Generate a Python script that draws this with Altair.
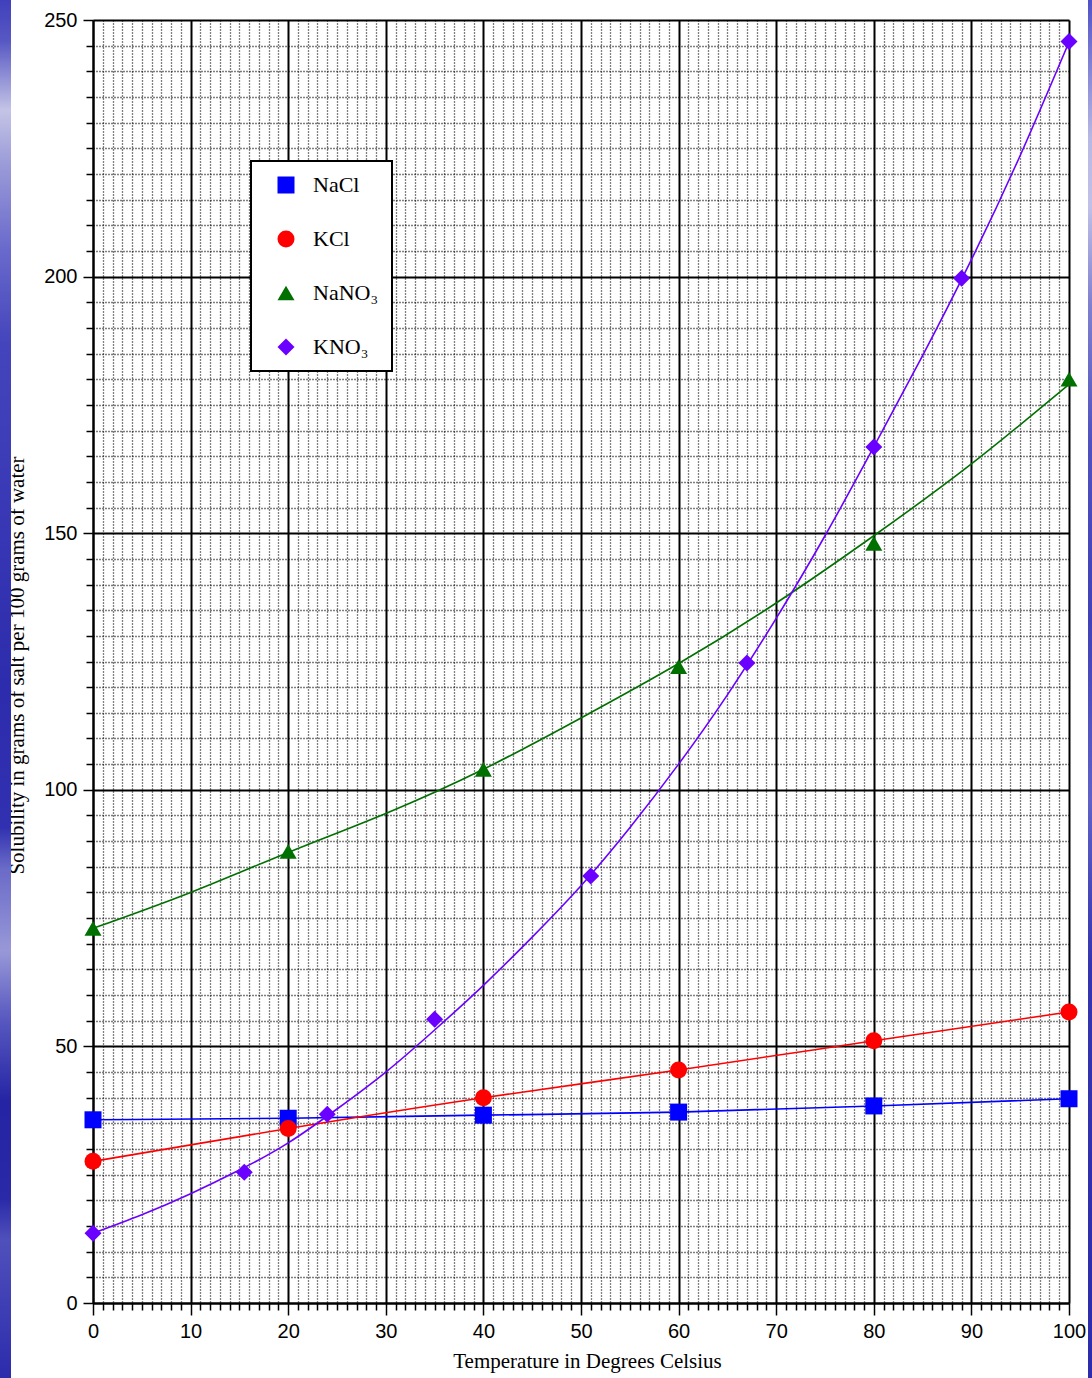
import altair as alt
import pandas as pd

# Salts, their colours and marker shapes (legend order)
salts = ["NaCl", "KCl", "NaNO₃", "KNO₃"]
salt_colors = ["#0000ff", "#ff0000", "#007000", "#6a00ff"]
salt_shapes = ["square", "circle", "triangle-up", "diamond"]

# Measured solubility (g salt / 100 g water) against temperature (°C)
temps_common = [0, 20, 40, 60, 80, 100]
nacl = [35.7, 36.0, 36.6, 37.2, 38.4, 39.8]
kcl = [27.6, 34.0, 40.0, 45.4, 51.1, 56.7]
nano3 = [73.0, 88.0, 104.0, 124.0, 148.0, 180.0]
kno3_temps = [0, 15.5, 24, 35, 51, 67, 80, 89, 100]
kno3 = [13.6, 25.5, 36.8, 55.3, 83.2, 124.7, 166.8, 199.7, 245.8]

# Smoothed solubility curves for the nitrates
nano3_curve_temps = [0, 10, 20, 30, 40, 50, 60, 70, 80, 90, 100]
nano3_curve = [73.0, 80.0, 87.8, 95.4, 104.0, 114.0, 124.6, 136.4, 149.5, 163.5, 179.0]
kno3_curve_temps = [0, 5, 10, 15, 20, 25, 30, 35, 40, 45, 50, 55, 60, 65, 70, 75, 80, 85, 90, 95, 100]
kno3_curve = [13.6, 17.2, 21.3, 25.9, 31.2, 37.8, 45.0, 53.2, 61.9, 71.3, 81.3,
              92.6, 105.0, 118.5, 133.4, 149.5, 166.8, 184.6, 203.3, 223.6, 245.7]

# Axis tick positions
x_ticks = list(range(0, 101))
y_ticks = list(range(0, 251, 5))


def frame(pairs):
    rows = []
    for salt, temps, vals in pairs:
        for t, v in zip(temps, vals):
            rows.append({"salt": salt, "temp": t, "sol": v})
    return pd.DataFrame(rows)


markers_df = frame([
    ("NaCl", temps_common, nacl),
    ("KCl", temps_common, kcl),
    ("NaNO₃", temps_common, nano3),
    ("KNO₃", kno3_temps, kno3),
])
curves_df = frame([
    ("NaCl", temps_common, nacl),
    ("KCl", temps_common, kcl),
    ("NaNO₃", nano3_curve_temps, nano3_curve),
    ("KNO₃", kno3_curve_temps, kno3_curve),
])

SERIF = "Liberation Serif"
SANS = "Liberation Sans"

x_axis = alt.Axis(
    values=x_ticks,
    labelExpr="datum.value % 10 === 0 ? datum.label : ''",
    labelFont=SANS, labelFontSize=20, labelColor="black",
    labelFlush=False, labelOverlap=False, labelBound=False, labelPadding=6,
    tickSize=alt.condition("datum.value % 10 === 0", alt.value(12), alt.value(7)),
    tickColor="black", tickWidth=1.5,
    grid=True, gridColor="black",
    gridDash=alt.condition("datum.value % 10 === 0", alt.value([]), alt.value([1, 2])),
    gridWidth=alt.condition("datum.value % 10 === 0", alt.value(2), alt.value(1.3)),
    domainColor="black", domainWidth=2,
    title="Temperature in Degrees Celsius",
    titleFont=SERIF, titleFontSize=21, titleFontWeight="normal", titleColor="black",
    titleX=494, titleY=64, titleBaseline="alphabetic", titleAlign="center",
)

y_axis = alt.Axis(
    values=y_ticks,
    labelExpr="datum.value % 50 === 0 ? datum.label : ''",
    labelFont=SANS, labelFontSize=20, labelColor="black",
    labelFlush=False, labelOverlap=False, labelBound=False, labelPadding=6,
    tickSize=alt.condition("datum.value % 50 === 0", alt.value(10), alt.value(7)),
    tickColor="black", tickWidth=1.5,
    grid=True, gridColor="black",
    gridDash=alt.condition("datum.value % 50 === 0", alt.value([]), alt.value([1, 2])),
    gridWidth=alt.condition("datum.value % 50 === 0", alt.value(2), alt.value(1.3)),
    domainColor="black", domainWidth=2,
    title="Solubility in grams of salt per 100 grams of water",
    titleFont=SERIF, titleFontSize=21, titleFontWeight="normal", titleColor="black",
    titleAngle=-90, titleX=-70, titleY=645, titleBaseline="alphabetic", titleAlign="center",
)

x_enc = alt.X("temp:Q", scale=alt.Scale(domain=[0, 100], nice=False, zero=False), axis=x_axis)
y_enc = alt.Y("sol:Q", scale=alt.Scale(domain=[0, 250], nice=False), axis=y_axis)
color_scale = alt.Scale(domain=salts, range=salt_colors)
shape_scale = alt.Scale(domain=salts, range=salt_shapes)

legend = alt.Legend(
    title=None, orient="none", legendX=158, legendY=141,
    padding=13, rowPadding=32,
    strokeColor="black", fillColor="white", cornerRadius=0,
    labelFont=SERIF, labelFontSize=22, labelColor="black", labelOffset=16,
    symbolSize=289, symbolStrokeWidth=0, symbolOffset=11,
)

# Smoothed curve for each salt, drawn in that salt's colour
curve_layers = [
    alt.Chart(curves_df).transform_filter(alt.datum.salt == s)
    .mark_line(strokeWidth=1.6, interpolate="natural", color=c)
    .encode(x=x_enc, y=y_enc)
    for s, c in zip(salts, salt_colors)
]

points = alt.Chart(markers_df).mark_point(filled=True, size=289, opacity=1).encode(
    x=x_enc, y=y_enc,
    color=alt.Color("salt:N", scale=color_scale, sort=salts, legend=legend),
    shape=alt.Shape("salt:N", scale=shape_scale, sort=salts, legend=legend),
)

# Slide-background strips at the left and right edges
strip_df = pd.DataFrame({"edge": ["left", "right"]})
left_grad = alt.Gradient(
    gradient="linear", x1=0, x2=0, y1=0, y2=1,
    stops=[
        alt.GradientStop(color="#4040bc", offset=0.0),
        alt.GradientStop(color="#5858c4", offset=0.03),
        alt.GradientStop(color="#c4c4e6", offset=0.08),
        alt.GradientStop(color="#9a9ad8", offset=0.12),
        alt.GradientStop(color="#6a6acc", offset=0.18),
        alt.GradientStop(color="#4444bc", offset=0.25),
        alt.GradientStop(color="#3636b4", offset=0.40),
        alt.GradientStop(color="#2c2cac", offset=0.50),
        alt.GradientStop(color="#3030b0", offset=0.60),
        alt.GradientStop(color="#6a6ac8", offset=0.63),
        alt.GradientStop(color="#9898d8", offset=0.69),
        alt.GradientStop(color="#5858c0", offset=0.74),
        alt.GradientStop(color="#2424a4", offset=0.80),
        alt.GradientStop(color="#2a2aa8", offset=0.87),
        alt.GradientStop(color="#5050bc", offset=0.90),
        alt.GradientStop(color="#2c2cac", offset=1.0),
    ],
)
right_grad = alt.Gradient(
    gradient="linear", x1=0, x2=0, y1=0, y2=1,
    stops=[
        alt.GradientStop(color="#5050c8", offset=0.0),
        alt.GradientStop(color="#b8b8e4", offset=0.10),
        alt.GradientStop(color="#c0c0e8", offset=0.15),
        alt.GradientStop(color="#8080d0", offset=0.22),
        alt.GradientStop(color="#5050c0", offset=0.32),
        alt.GradientStop(color="#4040b8", offset=0.45),
        alt.GradientStop(color="#6060c8", offset=0.58),
        alt.GradientStop(color="#3434b0", offset=0.70),
        alt.GradientStop(color="#2c2cac", offset=1.0),
    ],
)
left_strip = alt.Chart(strip_df.iloc[[0]]).mark_rect(color=left_grad).encode(
    x=alt.value(-93), x2=alt.value(-82), y=alt.value(-20), y2=alt.value(1358)
)
right_strip = alt.Chart(strip_df.iloc[[1]]).mark_rect(color=right_grad).encode(
    x=alt.value(995), x2=alt.value(1000), y=alt.value(-20), y2=alt.value(1358)
)

chart = (
    alt.layer(left_strip, right_strip, *curve_layers, points)
    .properties(
        width=976, height=1283,
        autosize=alt.AutoSizeParams(type="none"),
        padding={"left": 93, "top": 20, "right": 23, "bottom": 75},
        background="white",
    )
    .configure_view(stroke=None)
    .configure_legend(strokeWidth=2)
)

chart.save("out.html", embed_options={"renderer": "svg", "actions": False})
